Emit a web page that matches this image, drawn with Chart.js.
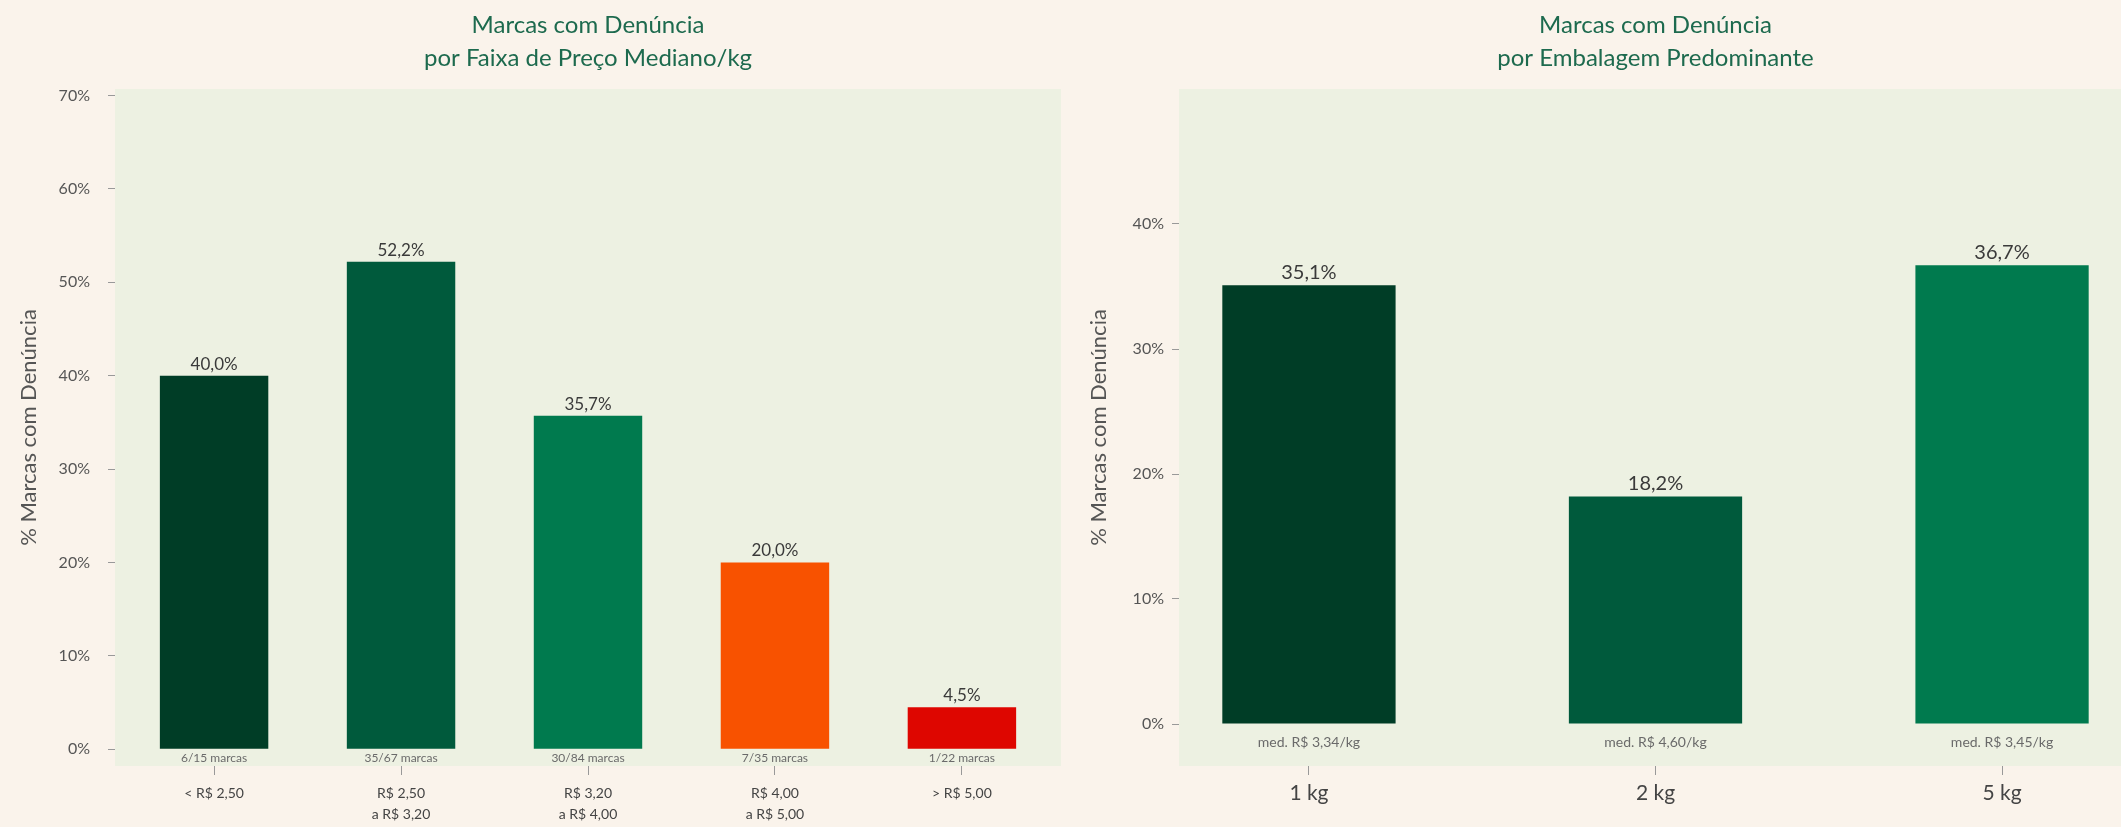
<!DOCTYPE html>
<html>
<head>
<meta charset="utf-8">
<script src="https://cdn.jsdelivr.net/npm/chart.js@4.4.0/dist/chart.umd.min.js"></script>
<style>
  html, body { margin: 0; padding: 0; background: #faf3eb; overflow: hidden; width: 2121px; height: 827px; }
  .panel { position: absolute; top: 0; height: 827px; }
  #left { left: 0; width: 1090px; }
  #right { left: 1040px; width: 1100px; }
</style>
</head>
<body>
<div class="panel" id="left"><canvas id="priceChart"></canvas></div>
<div class="panel" id="right"><canvas id="packChart"></canvas></div>
<script>
// Left panel: share of brands with complaints per median price band
const priceBands = [["< R$ 2,50"], ["R$ 2,50", "a R$ 3,20"], ["R$ 3,20", "a R$ 4,00"], ["R$ 4,00", "a R$ 5,00"], ["> R$ 5,00"]];
const pricePct = [40.0, 52.2, 35.7, 20.0, 4.5];
const priceCounts = ["6/15 marcas", "35/67 marcas", "30/84 marcas", "7/35 marcas", "1/22 marcas"];
const priceTicks = [0, 10, 20, 30, 40, 50, 60, 70];

// Right panel: same share per predominant package size
const packSizes = ["1 kg", "2 kg", "5 kg"];
const packPct = [35.1, 18.2, 36.7];
const packMedians = ["med. R$ 3,34/kg", "med. R$ 4,60/kg", "med. R$ 3,45/kg"];
const packTicks = [0, 10, 20, 30, 40];

const priceColors = ["#003d26", "#005a3c", "#007a4e", "#f85200", "#de0600"];
const packColors = ["#003d26", "#005a3c", "#007a4e"];

const FONT = "Lato, 'Open Sans', sans-serif";
const TITLE_GREEN = "#1d6a4e";
const GREY = "#555555";

const fmtPct = (v) => v.toFixed(1).replace(".", ",") + "%";

// light green panel behind the axes
const plotBg = {
  id: "plotBg",
  beforeDraw(chart) {
    const { ctx, chartArea: a } = chart;
    ctx.save();
    ctx.fillStyle = "#edf1e2";
    ctx.fillRect(a.left, a.top, a.right - a.left, a.bottom - a.top);
    ctx.restore();
  },
};

// value on top of each bar, note just under the zero line
const barNotes = {
  id: "barNotes",
  afterDatasetsDraw(chart, args, opts) {
    const { ctx } = chart;
    const meta = chart.getDatasetMeta(0);
    const zero = chart.scales.y.getPixelForValue(0);
    ctx.save();
    ctx.textAlign = "center";
    meta.data.forEach((bar, i) => {
      ctx.fillStyle = "#3a3a3a";
      ctx.font = `${opts.valueSize}px ${FONT}`;
      ctx.textBaseline = "bottom";
      ctx.fillText(fmtPct(opts.values[i]), bar.x, bar.y - 3);
      ctx.fillStyle = "#6a6a6a";
      ctx.font = `${opts.noteSize}px ${FONT}`;
      ctx.textBaseline = "middle";
      ctx.fillText(opts.notes[i], bar.x, zero + opts.noteOffset);
    });
    ctx.restore();
  },
};

function makeChart(el, cfg) {
  return new Chart(el, {
    type: "bar",
    data: {
      datasets: [{
        data: cfg.values.map((v, i) => ({ x: i, y: v })),
        backgroundColor: cfg.colors,
        borderWidth: 0,
        barPercentage: cfg.barPct,
        categoryPercentage: 1,
      }],
    },
    options: {
      responsive: true,
      maintainAspectRatio: false,
      animation: false,
      layout: { padding: { left: 0, right: cfg.padRight, top: 0, bottom: 0 } },
      plugins: {
        legend: { display: false },
        tooltip: { enabled: false },
        title: {
          display: true,
          fullSize: false,
          text: cfg.title,
          color: TITLE_GREEN,
          font: { family: FONT, size: 24, weight: "normal", lineHeight: 1.4 },
          padding: { top: 8, bottom: 13.8 },
        },
        barNotes: {
          values: cfg.values,
          notes: cfg.notes,
          valueSize: cfg.valueSize,
          noteSize: cfg.noteSize,
          noteOffset: cfg.noteOffset,
        },
      },
      scales: {
        x: {
          type: "linear",
          offset: false,
          min: cfg.xMin,
          max: cfg.xMax,
          afterBuildTicks: (s) => { s.ticks = cfg.labels.map((_, i) => ({ value: i })); },
          afterFit: (s) => { s.height = 61; },
          border: { display: false },
          grid: { offset: false, drawOnChartArea: false, drawTicks: true, tickLength: 9, tickColor: "#999" },
          ticks: {
            color: "#444",
            padding: cfg.xPad,
            maxRotation: 0,
            autoSkip: false,
            font: { family: FONT, size: cfg.xSize, lineHeight: cfg.xLine },
            callback: (v) => cfg.labels[v],
          },
        },
        y: {
          min: cfg.yMin,
          max: cfg.yMax,
          afterBuildTicks: (s) => { s.ticks = cfg.ticks.map((v) => ({ value: v })); },
          afterFit: (s) => { s.width = cfg.yWidth; },
          border: { display: false },
          grid: { drawOnChartArea: false, drawTicks: true, tickLength: 7, tickColor: "#999" },
          ticks: {
            color: GREY,
            padding: cfg.yPad,
            font: { family: FONT, size: 16 },
            callback: (v) => v + "%",
          },
          title: {
            display: true,
            text: "% Marcas com Denúncia",
            color: GREY,
            font: { family: FONT, size: 22 },
            padding: { top: cfg.yTitlePad, bottom: 0 },
          },
        },
      },
    },
    plugins: [plotBg, barNotes],
  });
}

makeChart(document.getElementById("priceChart"), {
  title: ["Marcas com Denúncia", "por Faixa de Preço Mediano/kg"],
  labels: priceBands,
  values: pricePct,
  notes: priceCounts,
  colors: priceColors,
  ticks: priceTicks,
  barPct: 0.58,
  xMin: -0.53,
  xMax: 4.53,
  yMin: -1.8,
  yMax: 70.7,
  yWidth: 115,
  yPad: 18,
  padRight: 29,
  yTitlePad: 16,
  xSize: 14,
  xLine: 1.5,
  xPad: 8,
  valueSize: 17,
  noteSize: 12,
  noteOffset: 9,
});

makeChart(document.getElementById("packChart"), {
  title: ["Marcas com Denúncia", "por Embalagem Predominante"],
  labels: packSizes,
  values: packPct,
  notes: packMedians,
  colors: packColors,
  ticks: packTicks,
  barPct: 0.5,
  xMin: -0.375,
  xMax: 2.375,
  yMin: -3.36,
  yMax: 50.8,
  yWidth: 139,
  yPad: 8,
  padRight: 8,
  yTitlePad: 46,
  xSize: 21,
  xLine: 1.2,
  xPad: 6,
  valueSize: 20,
  noteSize: 14,
  noteOffset: 18,
});
</script>
</body>
</html>
